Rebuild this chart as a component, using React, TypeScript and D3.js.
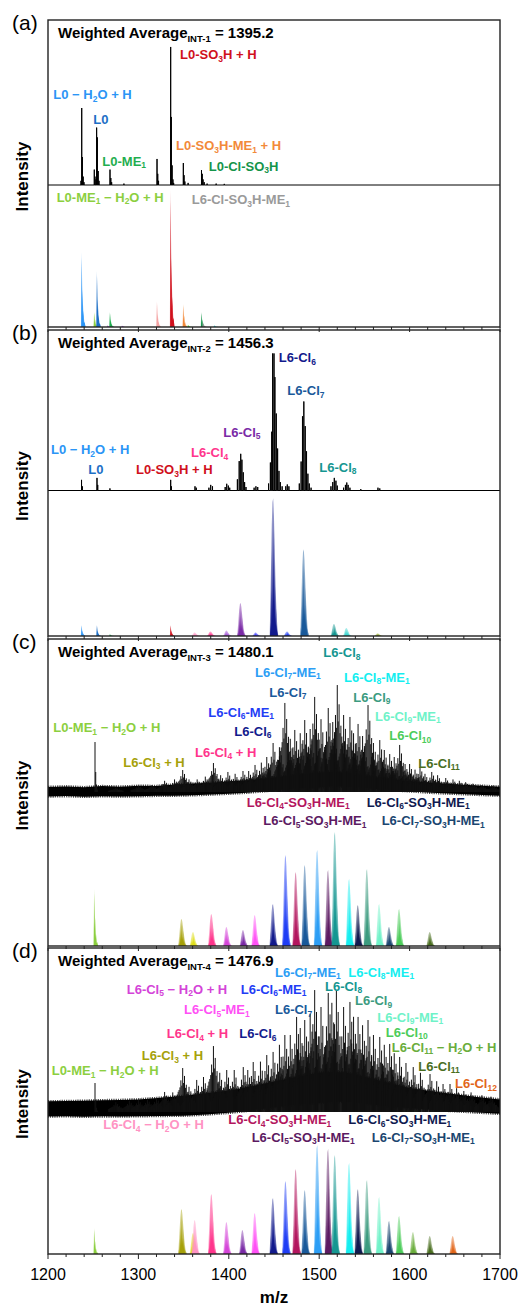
import React from 'react';
import * as d3 from 'd3';

const W = 521;
const H = 1307;

// species colours
const colors: Record<string, string> = {
  h2o: '#2b95f6', l0: '#1d6fc6', me1: '#1fae4f', me1h2o: '#8ccf3f', so3h: '#d0101c',
  so3hme: '#f28a3a', clso3h: '#14944a', l6clso3hme: '#9a9a9a', salmon: '#f4a3a3',
  purpleSm: '#9b4fd9', limeSm: '#44dd22', cyanSm: '#33cccc', cl3: '#a6a10a', yellow: '#dede1a',
  cl4: '#ff358c', cl4h2o: '#ff93c3', cl5h2o: '#d444d8', cl5: '#7a2aa6', cl5me: '#ff50f5',
  cl6: '#121a8c', cl6me: '#1f3df5', cl4so3: '#b3165e', cl7: '#19599a', cl7me: '#2c9ef5',
  cl5so3: '#5c1a62', cl8: '#159691', cl8me: '#14eef0', cl6so3: '#101a50', cl9: '#3c9b7f',
  cl9me: '#6ff2c8', cl7so3: '#1b4670', cl10: '#4ccc5a', cl11h2o: '#6aad3c', cl11: '#4a6e1f',
  cl12: '#e2661a', mpurple: '#a457d6', blueSm: '#3d3dff', turq: '#3dd6d0', oliveSm: '#8fa624',
};

// isotope envelopes (offset m/z, relative intensity)
const isoNarrow: [number, number][] = [[-0.6, 0], [0, 0.92], [0.5, 0.28], [0.9, 0.5], [1.4, 0.14], [1.9, 0.22], [2.5, 0.05], [3.2, 0.07], [4.2, 0]];
const isoNarrowLight: [number, number][] = [[-0.9, 0], [-0.2, 1], [0.6, 0.55], [1.4, 0.3], [2.2, 0.14], [3.2, 0.05], [4.4, 0]];
const isoCl: [number, number][] = [[-3.6, 0], [-3.2, 0.1], [-2.9, 0.03], [-2.4, 0.34], [-2.1, 0.06], [-1.6, 0.62], [-1.3, 0.12], [-0.8, 0.84], [-0.5, 0.2], [0, 0.9], [0.3, 0.25], [0.8, 0.78], [1.1, 0.2], [1.6, 0.56], [1.9, 0.12], [2.4, 0.36], [2.7, 0.08], [3.2, 0.2], [3.5, 0.04], [4, 0.09], [4.4, 0.01], [4.8, 0.04], [5.2, 0]];
const isoClLight: [number, number][] = [[-4, 0], [-3.3, 0.22], [-2.5, 0.5], [-1.7, 0.8], [-0.9, 0.97], [-0.1, 1], [0.7, 0.88], [1.5, 0.66], [2.3, 0.44], [3.1, 0.26], [3.9, 0.13], [4.7, 0.05], [5.6, 0]];
// experimental stick patterns
const expNarrow: [number, number][] = [[0, 1], [0.8, 0.4], [1.7, 0.15], [2.6, 0.05]];
const expComb: [number, number][] = [[-8, 0.3], [-7, 0.36], [-6, 0.4], [-5, 0.46], [-4, 0.5], [-3, 0.56], [-2, 0.72], [-1, 0.6], [0, 1], [1, 0.66], [2, 0.82], [3, 0.55], [4, 0.62], [5, 0.45], [6, 0.46], [7, 0.36], [8, 0.3]];

// ---- panel (a)
const expSticksA: [number, number][] = [
  [1236.5, 3], [1237.3, 55], [1238.0, 20], [1238.9, 6], [1239.8, 2],
  [1251.2, 11], [1252.0, 6], [1253.0, 4], [1253.8, 41], [1254.6, 34], [1255.5, 10], [1256.4, 3],
  [1268.6, 11], [1269.5, 5], [1270.4, 2], [1284, 1],
  [1320.6, 18.6], [1321.4, 8], [1322.3, 3],
  [1335.7, 98.6], [1336.4, 48.6], [1337.3, 14], [1338.2, 4], [1339, 1.5],
  [1349.7, 15.7], [1350.5, 7], [1351.4, 2.5], [1355, 1.5],
  [1369.8, 10.7], [1370.6, 8], [1371.5, 4], [1372.8, 2], [1376, 1], [1386, 1], [1395, 0.8],
];
const theoA: [number, number, string, string][] = [
  [1237.3, 53.6, 'h2o', 'n'], [1251.2, 10.7, 'me1h2o', 'n'], [1254.2, 40, 'l0', 'n'], [1268.6, 10.7, 'me1', 'n'],
  [1266, 1.2, 'purpleSm', 'n'], [1282, 1, 'purpleSm', 'n'], [1320.6, 18.6, 'salmon', 'n'], [1335.7, 97.9, 'so3h', 'n'],
  [1349.7, 16.4, 'so3hme', 'n'], [1355, 1.6, 'limeSm', 'n'], [1369.8, 10.7, 'clso3h', 'n'], [1371.5, 3.5, 'l6clso3hme', 'n'],
  [1384, 1.3, 'cyanSm', 'n'],
];
const labelsA: [string, string, number, number][] = [
  ['L0-SO_3H + H', 'so3h', 1346.0, 89.8], ['L0 − H_2O + H', 'h2o', 1205.9, 61.2], ['L0', 'l0', 1250.1, 43.6],
  ['L0-SO_3H-ME_1 + H', 'so3hme', 1341.6, 25], ['L0-ME_1', 'me1', 1260.1, 13.8], ['L0-Cl-SO_3H', 'clso3h', 1377.8, 10.2],
  ['L0-ME_1 − H_2O + H', 'me1h2o', 1209.6, -11.9], ['L6-Cl-SO_3H-ME_1', 'l6clso3hme', 1359.0, -13.8],
];

// ---- panel (b)
const expSticksB: [number, number][] = [
  [1237.1, 7.6], [1238, 3], [1254.2, 9], [1255, 4], [1268.5, 1.5], [1335.7, 7.6], [1336.5, 3],
  [1362.6, 3], [1364, 2], [1378, 2], [1380, 4], [1382, 3], [1396, 2.5], [1397.7, 4.8], [1399.5, 3.5], [1401, 2],
  [1409.5, 8], [1411.5, 21], [1413.2, 26.2], [1414.5, 22], [1416, 13], [1417.5, 6], [1419, 2.5],
  [1428, 2], [1430, 3], [1432, 2.5],
  [1444, 5], [1446, 20], [1447.5, 42], [1448.5, 97.9], [1450, 97.9], [1451, 81], [1452.5, 55], [1454, 30], [1455.5, 14], [1457, 6], [1459, 3],
  [1463, 3], [1464.7, 4.3], [1466.5, 3],
  [1478, 5], [1480, 20.7], [1481.5, 53], [1483, 63.6], [1484.5, 46], [1486, 28], [1487.5, 12], [1489, 5], [1491, 2],
  [1513, 3], [1515, 6], [1516.7, 9], [1518.5, 7], [1520, 3.5], [1527, 2], [1529, 4], [1530.5, 5.7], [1532, 4], [1534, 2],
  [1546, 1], [1565, 2], [1567, 1.5],
];
const theoB: [number, number, string, string][] = [
  [1237.2, 7.9, 'h2o', 'n'], [1254.2, 7.9, 'l0', 'n'], [1268.6, 1.4, 'me1', 'n'], [1335.7, 7.9, 'so3h', 'n'],
  [1362.6, 2.5, 'cl4h2o', 'c'], [1380, 3.2, 'cl4', 'c'], [1397.7, 3.9, 'mpurple', 'c'], [1413.2, 23.6, 'cl5', 'c'],
  [1430, 2.5, 'blueSm', 'c'], [1449.2, 98.4, 'cl6', 'c'], [1464.7, 3.2, 'cl6me', 'c'], [1483, 61.9, 'cl7', 'c'],
  [1516.7, 8.6, 'cl8', 'c'], [1530.4, 5.7, 'turq', 'c'], [1565, 1.8, 'oliveSm', 'c'],
];
const labelsB: [string, string, number, number][] = [
  ['L6-Cl_6', 'cl6', 1455.2, 91.6], ['L6-Cl_7', 'cl7', 1464.7, 68.2], ['L6-Cl_5', 'cl5', 1393.9, 38.4],
  ['L0 − H_2O + H', 'h2o', 1203.3, 25.9], ['L6-Cl_4', 'cl4', 1358.2, 23.7], ['L6-Cl_8', 'cl8', 1500.1, 13.4],
  ['L0', 'l0', 1244.6, 11.6], ['L0-SO_3H + H', 'so3h', 1297.3, 11.6],
];

// ---- panel (c)
const bandC: [number, number, number][] = [
  [1200, -3.2, 3.6], [1220, -2.9, 4.0], [1240, -3.4, 3.4], [1260, -3.0, 4.2], [1280, -3.2, 3.8], [1300, -3.0, 4.4],
  [1320, -2.7, 4.3], [1340, -2.6, 5.4], [1360, -2.3, 6.0], [1380, -1.8, 6.6], [1400, -1.2, 7.6], [1420, -0.5, 8.4],
  [1440, 0.6, 9.6], [1460, 1.6, 11.2], [1480, 2.6, 12.8], [1500, 3.3, 14.0], [1515, 3.9, 14.5], [1530, 3.8, 14.0],
  [1545, 3.1, 12.6], [1560, 2.3, 10.8], [1580, 1.3, 9.2], [1600, 0.5, 7.7], [1625, -0.6, 6.6], [1650, -1.3, 5.6],
  [1675, -2.0, 4.6], [1700, -2.6, 3.8],
];
const expClustersC: [number, number, string][] = [
  [1252, 35.7, 'n'], [1275, 3, 'c'], [1300, 4.5, 'c'], [1315, 5, 'c'], [1329, 8, 'c'], [1340, 9, 'c'], [1349, 15.7, 'c'],
  [1356, 9, 'c'], [1365, 9, 'c'], [1374, 11, 'c'], [1383, 20.7, 'c'], [1391, 12, 'c'], [1399, 14.3, 'c'], [1407, 13, 'c'],
  [1415.7, 15, 'c'], [1422, 15, 'c'], [1429, 19.3, 'c'], [1436, 21, 'c'], [1442, 25, 'c'], [1449, 35, 'c'], [1456, 32, 'c'],
  [1462, 63.6, 'c'], [1468, 38, 'c'], [1473, 44.3, 'c'], [1479, 42, 'c'], [1484, 51.4, 'c'], [1490, 45, 'c'], [1495, 67.9, 'c'],
  [1502, 52, 'c'], [1510, 60, 'c'], [1515, 50, 'c'], [1520, 76.4, 'c'], [1527, 55, 'c'], [1534, 53.6, 'c'], [1538, 42, 'c'],
  [1543, 48.6, 'c'], [1548, 40, 'c'], [1554, 62.1, 'c'], [1560, 35, 'c'], [1567, 37.1, 'c'], [1572, 30, 'c'], [1578, 27.1, 'c'],
  [1583, 25, 'c'], [1589, 33.6, 'c'], [1595, 20, 'c'], [1600, 20, 'c'], [1606, 16, 'c'], [1611.5, 17.9, 'c'], [1617, 13, 'c'],
  [1624.5, 14.3, 'c'], [1631, 12, 'c'], [1640, 10, 'c'], [1648, 9, 'c'], [1655, 8, 'c'], [1662, 7, 'c'], [1670, 6, 'c'],
  [1680, 5, 'c'], [1692, 4.5, 'c'],
];
const theoC: [number, number, string, string][] = [
  [1251.2, 40.7, 'me1h2o', 'n'], [1348, 19.3, 'cl3', 'c'], [1360.7, 10, 'yellow', 'c'], [1381, 22.9, 'cl4', 'c'],
  [1397.7, 13.6, 'cl5h2o', 'c'], [1416, 11.4, 'cl5', 'c'], [1429, 22.1, 'cl5me', 'c'], [1449, 30, 'cl6', 'c'],
  [1463, 65, 'cl6me', 'c'], [1474.3, 52.9, 'cl4so3', 'c'], [1484.3, 57.9, 'cl7', 'c'], [1498, 68.6, 'cl7me', 'c'],
  [1510, 54.3, 'cl5so3', 'c'], [1517.5, 81.4, 'cl8', 'c'], [1533.3, 47.9, 'cl8me', 'c'], [1543, 29.3, 'cl6so3', 'c'],
  [1553, 55, 'cl9', 'c'], [1566.5, 30, 'cl9me', 'c'], [1577.5, 13.6, 'cl7so3', 'c'], [1588.6, 26.4, 'cl10', 'c'],
  [1622.6, 10, 'cl11', 'c'],
];
const labelsC: [string, string, number, number][] = [
  ['L6-Cl_8', 'cl8', 1504.5, 96.2], ['L6-Cl_7-ME_1', 'cl7me', 1429.0, 82.4], ['L6-Cl_8-ME_1', 'cl8me', 1527.4, 78.8],
  ['L6-Cl_7', 'cl7', 1444.8, 68.1], ['L6-Cl_9', 'cl9', 1537.7, 64.5], ['L6-Cl_6-ME_1', 'cl6me', 1377.3, 53.8],
  ['L6-Cl_9-ME_1', 'cl9me', 1561.7, 50.9], ['L0-ME_1 − H_2O + H', 'me1h2o', 1205.9, 42.6], ['L6-Cl_6', 'cl6', 1406.1, 40.2],
  ['L6-Cl_10', 'cl10', 1577.5, 37.1], ['L6-Cl_4 + H', 'cl4', 1362.6, 25.2], ['L6-Cl_3 + H', 'cl3', 1283.3, 18.1],
  ['L6-Cl_11', 'cl11', 1609.6, 17.4], ['L6-Cl_4-SO_3H-ME_1', 'cl4so3', 1419.8, -10.5],
  ['L6-Cl_6-SO_3H-ME_1', 'cl6so3', 1552.5, -10.5], ['L6-Cl_5-SO_3H-ME_1', 'cl5so3', 1438.2, -23.6],
  ['L6-Cl_7-SO_3H-ME_1', 'cl7so3', 1569.1, -23.6],
];

// ---- panel (d)
const bandD: [number, number, number][] = [
  [1200, -3.2, 7.6], [1220, -3.0, 7.8], [1240, -3.4, 8.0], [1260, -3.1, 8.4], [1280, -3.2, 8.6], [1300, -3.0, 9.0],
  [1325, -2.8, 10.2], [1350, -2.6, 11.6], [1375, -1.8, 13.4], [1400, -0.6, 15.4], [1425, 1.1, 18.4], [1450, 3.3, 21.8],
  [1475, 5.1, 25.2], [1500, 6.4, 28.2], [1515, 7.1, 28.6], [1530, 7.3, 28.2], [1545, 6.4, 26.0], [1560, 5.2, 23.6],
  [1580, 3.8, 20.4], [1600, 2.6, 17.2], [1625, 1.4, 14.8], [1650, 0.6, 12.6], [1675, -0.4, 10.8], [1700, -1.3, 9.0],
];
const expClustersD: [number, number, string][] = [
  [1252, 20.7, 'n'], [1275, 7, 'c'], [1290, 8, 'c'], [1300, 8.5, 'c'], [1310, 9, 'c'], [1320, 10, 'c'], [1329, 14.3, 'c'],
  [1338, 14, 'c'], [1349, 31.4, 'c'], [1356, 18, 'c'], [1364.5, 22.9, 'c'], [1372, 25, 'c'], [1383, 47.1, 'c'], [1390, 28, 'c'],
  [1397.7, 30, 'c'], [1406, 30, 'c'], [1416, 32.1, 'c'], [1421, 30, 'c'], [1427, 35.7, 'c'], [1435, 36, 'c'], [1442, 40.7, 'c'],
  [1449, 42.9, 'c'], [1456, 48, 'c'], [1462, 55, 'c'], [1468, 55, 'c'], [1475, 67.9, 'c'], [1479, 60, 'c'], [1484, 65.7, 'c'],
  [1490, 70, 'c'], [1495, 87.1, 'c'], [1502, 75, 'c'], [1510, 85, 'c'], [1514, 78, 'c'], [1519, 87.1, 'c'], [1527, 75, 'c'],
  [1534, 78.6, 'c'], [1538, 68, 'c'], [1543, 67.9, 'c'], [1548, 62, 'c'], [1554, 65.7, 'c'], [1560, 55, 'c'], [1567, 53.6, 'c'],
  [1572, 48, 'c'], [1578, 48.6, 'c'], [1583, 42, 'c'], [1589, 39.3, 'c'], [1596, 35, 'c'], [1604, 32.1, 'c'], [1612, 28, 'c'],
  [1622.6, 27.1, 'c'], [1630, 22, 'c'], [1637, 20, 'c'], [1644.7, 20, 'c'], [1652, 17, 'c'], [1660, 15, 'c'], [1668, 14, 'c'],
  [1680, 12, 'c'], [1690, 11, 'c'],
];
const theoD: [number, number, string, string][] = [
  [1251.2, 18.6, 'me1h2o', 'n'], [1348, 32.1, 'cl3', 'c'], [1360.7, 15, 'yellow', 'c'], [1362.6, 24.3, 'cl4h2o', 'c'],
  [1381, 42.9, 'cl4', 'c'], [1397.7, 22.9, 'cl5h2o', 'c'], [1415.4, 17.1, 'cl5', 'c'], [1429, 29.3, 'cl5me', 'c'],
  [1449, 40, 'cl6', 'c'], [1463, 52.1, 'cl6me', 'c'], [1474.3, 60.7, 'cl4so3', 'c'], [1484.3, 45.7, 'cl7', 'c'],
  [1498, 77.9, 'cl7me', 'c'], [1510, 75, 'cl5so3', 'c'], [1517.5, 70.7, 'cl8', 'c'], [1533.3, 65, 'cl8me', 'c'],
  [1543, 46.4, 'cl6so3', 'c'], [1553, 52.9, 'cl9', 'c'], [1566.5, 40.7, 'cl9me', 'c'], [1577.5, 23.6, 'cl7so3', 'c'],
  [1588.6, 27.1, 'cl10', 'c'], [1604, 15.7, 'cl11h2o', 'c'], [1622.6, 12.9, 'cl11', 'c'], [1648, 12.9, 'cl12', 'c'],
];
const labelsD: [string, string, number, number][] = [
  ['L6-Cl_7-ME_1', 'cl7me', 1451.1, 96.6], ['L6-Cl_8-ME_1', 'cl8me', 1532.2, 96.6], ['L6-Cl_8', 'cl8', 1506.4, 86.6],
  ['L6-Cl_5 − H_2O + H', 'cl5h2o', 1287.1, 84.3], ['L6-Cl_6-ME_1', 'cl6me', 1413.2, 84.3], ['L6-Cl_9', 'cl9', 1539.6, 76.4],
  ['L6-Cl_5-ME_1', 'cl5me', 1350.4, 70], ['L6-Cl_7', 'cl7', 1451.1, 70], ['L6-Cl_9-ME_1', 'cl9me', 1564.3, 64.5],
  ['L6-Cl_4 + H', 'cl4', 1331.3, 52.6], ['L6-Cl_6', 'cl6', 1411.6, 52.6], ['L6-Cl_10', 'cl10', 1573.6, 53.8],
  ['L6-Cl_11 − H_2O + H', 'cl11h2o', 1580.2, 43.1], ['L6-Cl_3 + H', 'cl3', 1303.7, 37.1], ['L6-Cl_11', 'cl11', 1609.6, 29.5],
  ['L0-ME_1 − H_2O + H', 'me1h2o', 1204.1, 26.4], ['L6-Cl_12', 'cl12', 1650.2, 16.9],
  ['L6-Cl_4-SO_3H-ME_1', 'cl4so3', 1399.4, -8.6], ['L6-Cl_6-SO_3H-ME_1', 'cl6so3', 1532.2, -8.6],
  ['L6-Cl_4 − H_2O + H', 'cl4h2o', 1261.2, -12.4], ['L6-Cl_5-SO_3H-ME_1', 'cl5so3', 1425.3, -21.2],
  ['L6-Cl_7-SO_3H-ME_1', 'cl7so3', 1558.1, -21.2],
];

const titles = [['INT-1', '1395.2'], ['INT-2', '1456.3'], ['INT-3', '1480.1'], ['INT-4', '1476.9']];

const panels = [
  { id: 'a', top: 20, bottom: 327, base: 185, sticks: expSticksA, band: null, clusters: null, theo: theoA, labels: labelsA },
  { id: 'b', top: 330, bottom: 636, base: 490.5, sticks: expSticksB, band: null, clusters: null, theo: theoB, labels: labelsB },
  { id: 'c', top: 639, bottom: 946, base: 792, sticks: null, band: bandC, clusters: expClustersC, theo: theoC, labels: labelsC },
  { id: 'd', top: 948, bottom: 1254, base: 1112, sticks: null, band: bandD, clusters: expClustersD, theo: theoD, labels: labelsD },
];

const FONT = "'Liberation Sans', Arial, Helvetica, sans-serif";
const x = d3.scaleLinear().domain([1200, 1700]).range([48, 500]);

function Rich({ text, px, py, fill }: { text: string; px: number; py: number; fill: string }) {
  const parts = text.split(/_(\d+)/);
  return (
    <text x={px} y={py} fill={fill} fontSize={13} fontWeight="bold">
      {parts.map((s, i) =>
        i % 2 ? <tspan key={i} fontSize={8.5} dy={2.5}>{s}</tspan> : <tspan key={i} dy={i ? -2.5 : 0}>{s}</tspan>
      )}
    </text>
  );
}

function Panel({ p, idx }: { p: any; idx: number }) {
  const yE = d3.scaleLinear().domain([0, 100]).range([p.base, p.base - 140]);
  const yT = d3.scaleLinear().domain([0, 100]).range([p.bottom, p.bottom - 140]);

  const theoPath = (mz: number, v: number, pat: [number, number][]) =>
    d3.area<[number, number]>()
      .x(d => x(mz + d[0]))
      .y0(p.bottom)
      .y1(d => yT(v * d[1]))(pat) as string;

  let expD = '';
  if (p.sticks) {
    const pts: [number, number][] = [[1200, 0]];
    [...p.sticks].sort((a: any, b: any) => a[0] - b[0]).forEach(([m, v]: [number, number]) => {
      pts.push([m, 0], [m, v], [m, 0]);
    });
    pts.push([1700, 0]);
    expD = d3.line<[number, number]>().x(d => x(d[0])).y(d => yE(d[1]))(pts) as string;
  }
  let bandPath = '';
  let combD = '';
  if (p.band) {
    bandPath = d3.area<[number, number, number]>()
      .x(d => x(d[0])).y0(d => yE(d[1])).y1(d => yE(d[2]))(p.band) as string;
    p.clusters.forEach(([m, v, k]: [number, number, string]) => {
      const pat = k === 'n' ? expNarrow : expComb;
      pat.forEach(([o, r]) => {
        combD += `M${x(m + o).toFixed(2)},${yE(0).toFixed(2)}V${yE(v * r).toFixed(2)}`;
      });
    });
  }

  const minor = x.ticks(25);
  const major = x.ticks(5);
  const clipId = `clip-${p.id}`;

  return (
    <g>
      <defs>
        <clipPath id={clipId}>
          <rect x={48} y={p.top} width={452} height={p.bottom - p.top} />
        </clipPath>
      </defs>
      <g clipPath={`url(#${clipId})`}>
        {p.theo.map(([m, v, sp, k]: [number, number, string, string], i: number) => (
          <g key={i}>
            <path d={theoPath(m, v, k === 'n' ? isoNarrowLight : isoClLight)} fill={colors[sp]} fillOpacity={0.45} />
            <path d={theoPath(m, v, k === 'n' ? isoNarrow : isoCl)} fill={colors[sp]} />
          </g>
        ))}
        {expD && <path d={expD} fill="none" stroke="#000" strokeWidth={1} />}
        {bandPath && (
          <path d={bandPath} fill="#000" stroke="#000" strokeWidth={2.6} strokeDasharray="0.7 1.1" />
        )}
        {combD && <path d={combD} fill="none" stroke="#111" strokeWidth={1} />}
      </g>
      <rect x={48} y={p.top} width={452} height={p.bottom - p.top} fill="none" stroke="#222" strokeWidth={1.4} />
      {minor.map(t => (
        <line key={t} x1={x(t)} x2={x(t)} y1={p.bottom} y2={p.bottom + (major.includes(t) ? 5 : 3)} stroke="#222" strokeWidth={1} />
      ))}
      {p.labels.map(([t, c, m, v]: [string, string, number, number], i: number) => (
        <Rich key={i} text={t} px={x(m)} py={yE(v)} fill={colors[c]} />
      ))}
      <text x={58} y={p.top + 18} fontSize={15} fontWeight="bold" fill="#000">
        Weighted Average<tspan fontSize={9.5} dy={4}>{titles[idx][0]}</tspan>
        <tspan dy={-4}> = {titles[idx][1]}</tspan>
      </text>
      <text x={12} y={p.top + 10} fontSize={21} fill="#000">({p.id})</text>
      <text transform={`translate(28,${(p.top + p.bottom) / 2 + 3}) rotate(-90)`} textAnchor="middle" fontSize={17} fontWeight="bold" fill="#000">
        Intensity
      </text>
    </g>
  );
}

export default function App() {
  const major = x.ticks(5);
  return (
    <svg width={W} height={H} style={{ position: 'absolute', left: 0, top: 0 }} fontFamily={FONT}>
      <rect width={W} height={H} fill="#fff" />
      {panels.map((p, i) => <Panel key={p.id} p={p} idx={i} />)}
      {major.map(t => (
        <text key={t} x={x(t)} y={1280} textAnchor="middle" fontSize={16} fill="#000">{t}</text>
      ))}
      <text x={x(1450)} y={1303} textAnchor="middle" fontSize={17} fontWeight="bold" fill="#000">m/z</text>
    </svg>
  );
}
